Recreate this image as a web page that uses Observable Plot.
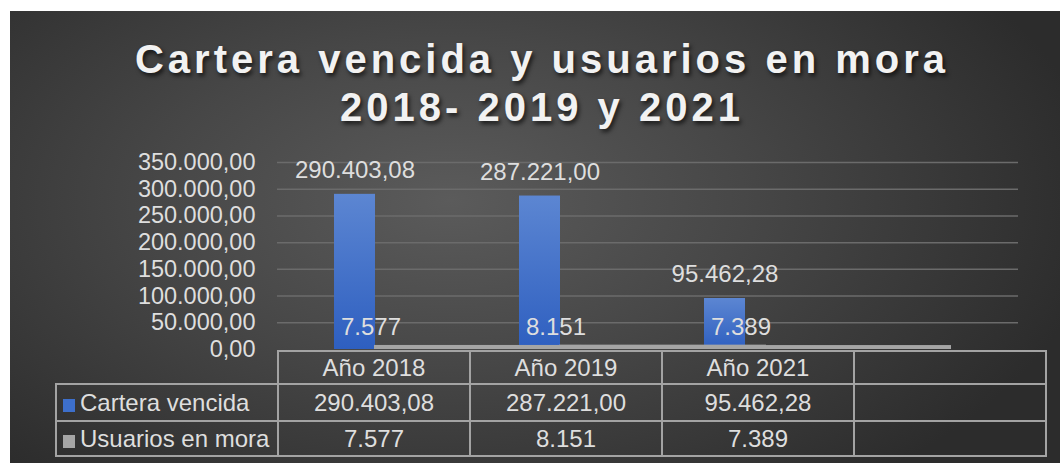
<!DOCTYPE html>
<html>
<head>
<meta charset="utf-8">
<script src="https://cdn.jsdelivr.net/npm/d3@7"></script>
<script src="https://cdn.jsdelivr.net/npm/@observablehq/plot@0.6"></script>
<style>
  html, body { margin: 0; padding: 0; background: #ffffff; width: 1060px; height: 463px; overflow: hidden; }
  #frame {
    position: absolute; left: 10px; top: 11px; width: 1050px; height: 452px;
    background: radial-gradient(ellipse 62% 80% at 42% 42%, #5b5b5b 0%, #474747 45%, #2c2c2c 100%);
  }
  #title {
    position: absolute; left: 17px; top: 35px; width: 1050px; text-align: center;
    font-family: "Liberation Sans", Arial, sans-serif; font-weight: bold; font-size: 40px;
    line-height: 48px; letter-spacing: 4px; color: #f2f2f2;
    text-shadow: 2px 3px 4px rgba(0,0,0,0.65);
  }
  #chart { position: absolute; left: 0; top: 0; }
  #table {
    position: absolute; left: 55px; top: 350px; border-collapse: collapse; table-layout: fixed;
    font-family: "Liberation Sans", Arial, sans-serif; font-size: 24px; color: #dedede;
  }
  #table td { border: 2px solid #a3a3a3; text-align: center; vertical-align: middle; padding: 0; white-space: nowrap; }
  #table td.blank { border-top: none; border-left: none; }
  #table td.name { text-align: left; padding-left: 6px; }
  .sw { display: inline-block; width: 12px; height: 13px; margin-right: 5px; vertical-align: -1px; }
</style>
</head>
<body>
<div id="frame"></div>
<div id="title">Cartera vencida y usuarios en mora<br>2018- 2019 y 2021</div>
<div id="chart"></div>
<table id="table"></table>
<script>
// ---- data ----
const categories = ["Año 2018", "Año 2019", "Año 2021", " "];
const years = ["Año 2018", "Año 2019", "Año 2021"];
const carteraVencida = [290403.08, 287221.00, 95462.28];
const usuariosMora = [7577, 8151, 7389];
const seriesNames = ["Cartera vencida", "Usuarios en mora"];
const yTicks = [0, 50000, 100000, 150000, 200000, 250000, 300000, 350000];

const loc = d3.formatLocale({decimal: ",", thousands: ".", grouping: [3], currency: ["", ""]});
const fmt2 = loc.format(",.2f");
const fmt0 = loc.format(",d");

const cartera = years.map((y, i) => ({year: y, value: carteraVencida[i]}));
const usuarios = years.map((y, i) => ({year: y, value: usuariosMora[i]}));

const textColor = "#dedede";

const plot = Plot.plot({
  width: 1060,
  height: 360,
  marginLeft: 277,
  marginRight: 42,
  marginTop: 162,
  marginBottom: 11,
  style: {background: "transparent", fontFamily: "'Liberation Sans', Arial, sans-serif", fontSize: "23px", color: textColor, overflow: "visible"},
  x: {type: "band", domain: categories, padding: 0, axis: null},
  y: {domain: [0, 350000], axis: null},
  marks: [
    Plot.gridY(yTicks.filter(d => d > 0), {stroke: "#6b6b6b", strokeOpacity: 1, strokeWidth: 1.5}),
    Plot.axisY(yTicks, {tickSize: 0, tickPadding: 22, tickFormat: fmt2, fontSize: 23.5, fill: textColor, label: null}),
    Plot.barY(cartera, {x: "year", y: "value", fill: "url(#blueGrad)", insetLeft: 56, insetRight: 88}),
    Plot.barY(usuarios, {x: "year", y: "value", fill: "#a5a5a5", insetLeft: 96, insetRight: -118}),
    Plot.text(cartera, {x: "year", y: "value", text: d => fmt2(d.value), dx: -16, dy: -24, fontSize: 24, fill: textColor}),
    Plot.text(usuarios, {x: "year", y: "value", text: d => fmt0(d.value), dy: -18, fontSize: 24, fill: textColor})
  ]
});

// gradient for the blue bars
const svg = d3.select(plot);
const defs = svg.insert("defs", ":first-child");
const g = defs.append("linearGradient").attr("id", "blueGrad").attr("x1", 0).attr("y1", 0).attr("x2", 0).attr("y2", 1);
g.append("stop").attr("offset", "0%").attr("stop-color", "#5c86d2");
g.append("stop").attr("offset", "100%").attr("stop-color", "#2e5fc0");
document.getElementById("chart").appendChild(plot);

// data table (legend-like)
const table = d3.select("#table");
const colW = [222, 192, 192, 192, 192];
const cg = table.append("colgroup");
colW.forEach(w => cg.append("col").style("width", w + "px"));
const head = table.append("tr").style("height", "33px");
head.append("td").attr("class", "blank");
categories.forEach(c => head.append("td").text(c.trim()));
const rows = [
  {name: seriesNames[0], color: "#3d6fcb", vals: carteraVencida.map(fmt2)},
  {name: seriesNames[1], color: "#a5a5a5", vals: usuariosMora.map(fmt0)}
];
rows.forEach((r, i) => {
  const tr = table.append("tr").style("height", i === 0 ? "37px" : "35px");
  const td = tr.append("td").attr("class", "name");
  td.append("span").attr("class", "sw").style("background", r.color);
  td.append("span").text(r.name);
  categories.forEach((c, j) => tr.append("td").text(j < r.vals.length ? r.vals[j] : ""));
});
</script>
</body>
</html>
